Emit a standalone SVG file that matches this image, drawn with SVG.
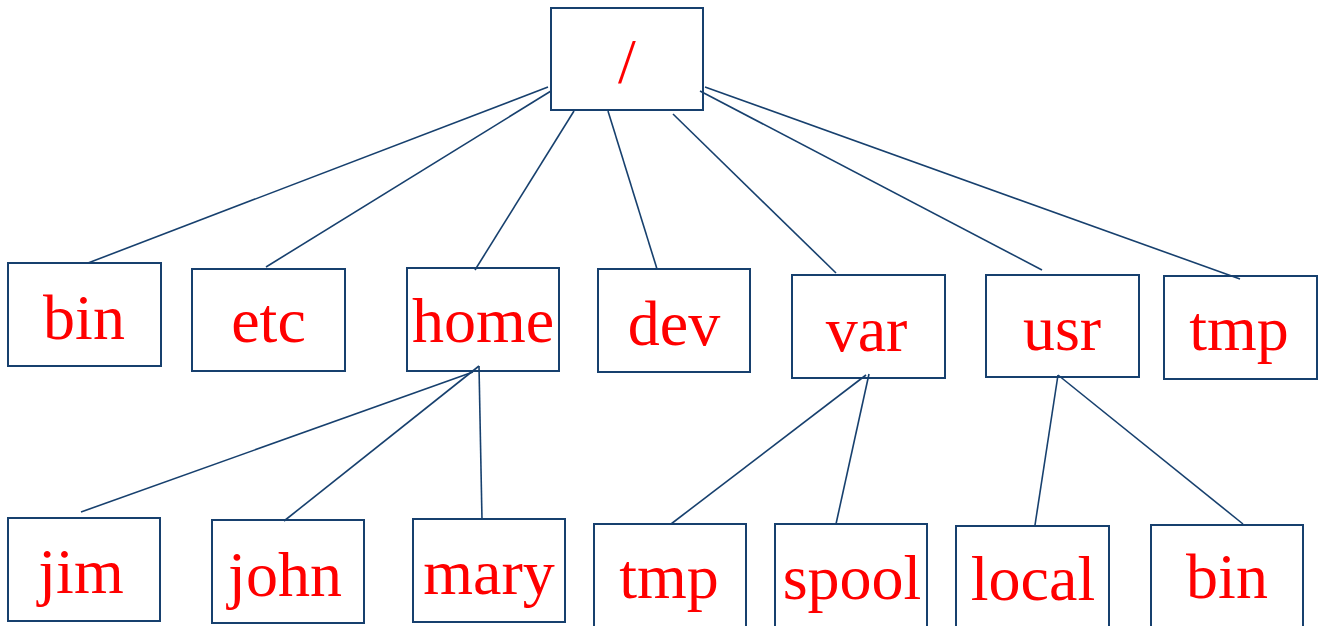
<svg xmlns="http://www.w3.org/2000/svg" width="1323" height="626" viewBox="0 0 1323 626">
<style>
.box{fill:#fff;stroke:#17406e;stroke-width:2}
.lbl{font-family:"Liberation Serif","Times New Roman",serif;font-size:64px;fill:#ff0000;text-anchor:middle}
.edge{stroke:#17406e;stroke-width:1.6;fill:none}
</style>
<rect width="1323" height="626" fill="#fff"/>
<g id="root"><rect class="box" x="551" y="8" width="152" height="102"/><text class="lbl" x="627" y="83">/</text></g>
<g id="bin"><rect class="box" x="8" y="263" width="153" height="103"/><text class="lbl" x="84" y="339">bin</text></g>
<g id="etc"><rect class="box" x="192" y="269" width="153" height="102"/><text class="lbl" x="268.5" y="342">etc</text></g>
<g id="home"><rect class="box" x="407" y="268" width="152" height="103"/><text class="lbl" x="483" y="342">home</text></g>
<g id="dev"><rect class="box" x="598" y="269" width="152" height="103"/><text class="lbl" x="674" y="345">dev</text></g>
<g id="var"><rect class="box" x="792" y="275" width="153" height="103"/><text class="lbl" x="866.5" y="351">var</text></g>
<g id="usr"><rect class="box" x="986" y="275" width="153" height="102"/><text class="lbl" x="1062" y="350">usr</text></g>
<g id="tmp"><rect class="box" x="1164" y="276" width="153" height="103"/><text class="lbl" x="1239" y="350">tmp</text></g>
<g id="jim"><rect class="box" x="8" y="518" width="152" height="103"/><text class="lbl" x="81" y="593">jim</text></g>
<g id="john"><rect class="box" x="212" y="520" width="152" height="103"/><text class="lbl" x="285" y="596">john</text></g>
<g id="mary"><rect class="box" x="413" y="519" width="152" height="103"/><text class="lbl" x="489" y="594">mary</text></g>
<g id="var-tmp"><rect class="box" x="594" y="524" width="152" height="104"/><text class="lbl" x="669" y="598">tmp</text></g>
<g id="spool"><rect class="box" x="775" y="524" width="152" height="104"/><text class="lbl" x="852" y="599">spool</text></g>
<g id="local"><rect class="box" x="956" y="526" width="153" height="104"/><text class="lbl" x="1033" y="600">local</text></g>
<g id="usr-bin"><rect class="box" x="1151" y="525" width="152" height="104"/><text class="lbl" x="1227" y="598">bin</text></g>
<g id="connectors">
<line class="edge" x1="548" y1="87" x2="88" y2="263"/>
<line class="edge" x1="551" y1="91" x2="266" y2="267"/>
<line class="edge" x1="574" y1="111" x2="475" y2="270"/>
<line class="edge" x1="608" y1="111" x2="657" y2="269"/>
<line class="edge" x1="673" y1="114" x2="836" y2="273"/>
<line class="edge" x1="700" y1="91" x2="1042" y2="270"/>
<line class="edge" x1="705" y1="87" x2="1240" y2="279"/>
<line class="edge" x1="473" y1="372" x2="81" y2="512"/>
<line class="edge" x1="479" y1="366" x2="284" y2="521"/>
<line class="edge" x1="479" y1="366" x2="482" y2="520"/>
<line class="edge" x1="866" y1="375" x2="671" y2="524"/>
<line class="edge" x1="869" y1="374" x2="836" y2="524"/>
<line class="edge" x1="1058" y1="375" x2="1035" y2="525"/>
<line class="edge" x1="1058" y1="375" x2="1243" y2="524"/>
</g>
</svg>
